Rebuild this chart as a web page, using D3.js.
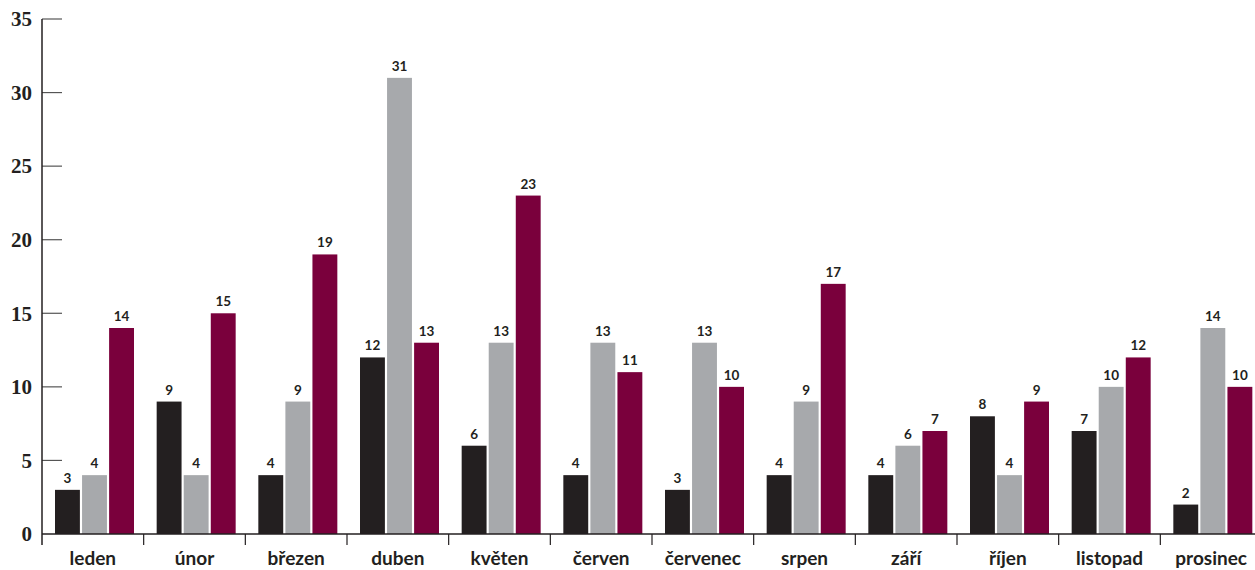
<!DOCTYPE html>
<html><head><meta charset="utf-8">
<script src="https://cdn.jsdelivr.net/npm/d3@7"></script>
<style>body{margin:0;background:#fff}svg{display:block}</style>
</head><body>
<svg id="c" width="1255" height="570"></svg>
<script>
const months = ["leden","únor","březen","duben","květen","červen","červenec","srpen","září","říjen","listopad","prosinec"];
const seriesNames = ["s1","s2","s3"];
const s1 = [3,9,4,12,6,4,3,4,4,8,7,2];
const s2 = [4,4,9,31,13,13,13,9,6,4,10,14];
const s3 = [14,15,19,13,23,11,10,17,7,9,12,10];
const yTicks = [0,5,10,15,20,25,30,35];
const colors = ["#231f20","#a7a9ac","#7a003c"];

const svg = d3.select("#c");
const x = d3.scaleBand().domain(months).range([42, 1262]);
const xs = d3.scaleBand().domain(seriesNames).range([13, 92]).paddingInner(0.08);
const y = d3.scaleLinear().domain([0,35]).range([534, 19]);
const data = [s1,s2,s3];

// y ticks
const gy = svg.append("g");
gy.selectAll("line").data(yTicks.slice(1)).join("line")
  .attr("x1",42).attr("x2",62).attr("y1",d=>y(d)).attr("y2",d=>y(d))
  .attr("stroke","#555").attr("stroke-width",1.2);
gy.selectAll("text").data(yTicks).join("text")
  .attr("x",32).attr("y",d=>y(d)).attr("dy","0.35em").attr("text-anchor","end")
  .attr("font-family","Liberation Serif, DejaVu Serif, serif").attr("font-weight","bold")
  .attr("font-size",21).attr("fill","#231f20").text(d=>d);

// bars
months.forEach((m,i)=>{
  const g = svg.append("g");
  data.forEach((arr,k)=>{
    const v = arr[i];
    g.append("rect").attr("x",x(m)+xs(seriesNames[k])).attr("width",xs.bandwidth())
      .attr("y",y(v)).attr("height",y(0)-y(v)).attr("fill",colors[k]);
    g.append("text").attr("x",x(m)+xs(seriesNames[k])+xs.bandwidth()/2).attr("y",y(v)-7)
      .attr("text-anchor","middle").attr("font-family","Lato, Open Sans, sans-serif")
      .attr("font-weight","bold").attr("font-size",13.5).attr("fill","#231f20").text(v);
  });
});

// axes lines
svg.append("line").attr("x1",42).attr("x2",42).attr("y1",y(35)).attr("y2",y(0)+11)
  .attr("stroke","#231f20").attr("stroke-width",1.5);
svg.append("line").attr("x1",42).attr("x2",1262).attr("y1",y(0)).attr("y2",y(0))
  .attr("stroke","#231f20").attr("stroke-width",1.5);
svg.selectAll(".ct").data(months.slice(1)).join("line")
  .attr("x1",d=>x(d)).attr("x2",d=>x(d)).attr("y1",y(0)).attr("y2",y(0)+11)
  .attr("stroke","#231f20").attr("stroke-width",1.2);
svg.selectAll(".cl").data(months).join("text")
  .attr("x",d=>x(d)+x.bandwidth()/2).attr("y",y(0)+24).attr("dy","0.35em")
  .attr("text-anchor","middle").attr("font-family","Lato, Open Sans, sans-serif")
  .attr("font-weight","bold").attr("font-size",19).attr("fill","#231f20").text(d=>d);
</script>
</body></html>
